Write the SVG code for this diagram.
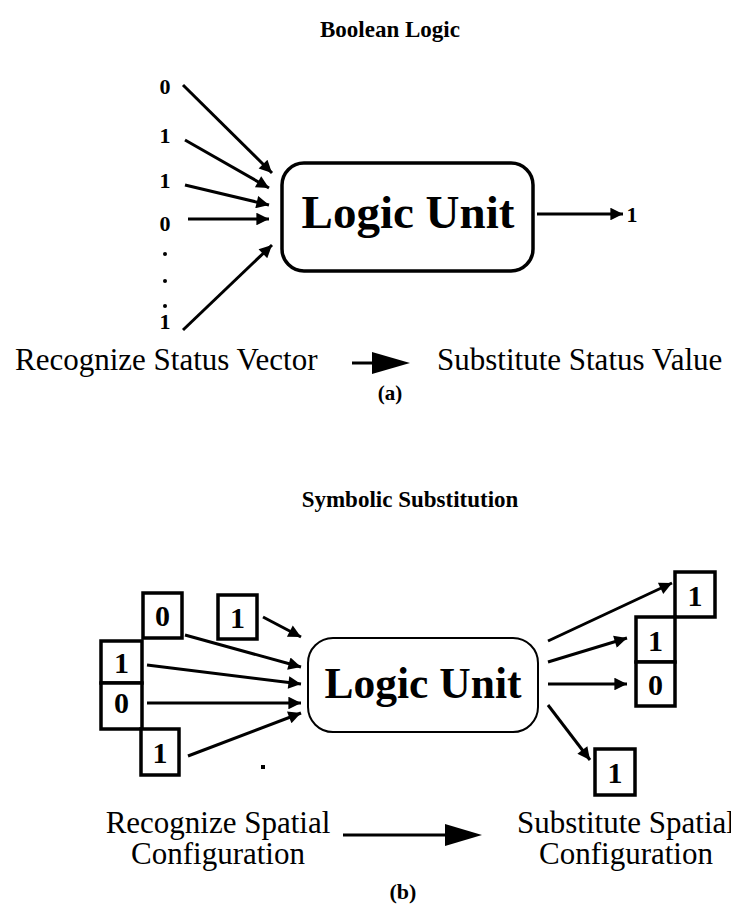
<svg xmlns="http://www.w3.org/2000/svg" width="731" height="909" viewBox="0 0 731 909">
<style>
text{font-family:"Liberation Serif","Times New Roman",serif;fill:#000}
.b{font-weight:bold}
.t{font-size:23px;font-weight:bold}
.lab{font-size:22px;font-weight:bold;text-anchor:middle}
.big{font-size:31px}
.mid{text-anchor:middle}
.cell{fill:#fff;stroke:#000;stroke-width:3.5}
.cd{font-size:30px;font-weight:bold;text-anchor:middle}
.ln{stroke:#000;stroke-width:3;fill:none}
</style>
<defs>
<marker id="ah" viewBox="0 0 10 10" refX="10" refY="5" markerWidth="5.5" markerHeight="4.2" markerUnits="strokeWidth" orient="auto">
<path d="M0,0 L10,5 L0,10 z" fill="#000"/>
</marker>
</defs>
<rect width="731" height="909" fill="#fff"/>

<text class="t" x="390" y="37" text-anchor="middle">Boolean Logic</text>

<g id="inputs-a">
<text class="lab" x="165" y="94">0</text>
<text class="lab" x="165" y="143">1</text>
<text class="lab" x="165" y="188">1</text>
<text class="lab" x="165" y="231">0</text>
<circle cx="165" cy="254" r="2"/>
<circle cx="165" cy="281" r="2"/>
<circle cx="165" cy="306" r="2"/>
<text class="lab" x="165" y="329">1</text>
</g>

<g id="logic-unit-a">
<rect x="282" y="163" width="251" height="108" rx="22" ry="22" fill="#fff" stroke="#000" stroke-width="3.5"/>
<text class="b" x="408" y="228" font-size="47" text-anchor="middle">Logic Unit</text>
</g>

<g id="output-a">
<text class="lab" x="632" y="222">1</text>
</g>

<g id="connectors-a">
<line class="ln" x1="183" y1="85" x2="272" y2="173" marker-end="url(#ah)"/>
<line class="ln" x1="185" y1="140" x2="269" y2="188" marker-end="url(#ah)"/>
<line class="ln" x1="185" y1="185" x2="269" y2="205" marker-end="url(#ah)"/>
<line class="ln" x1="188" y1="219" x2="269" y2="219" marker-end="url(#ah)"/>
<line class="ln" x1="183" y1="330" x2="272" y2="245" marker-end="url(#ah)"/>
<line class="ln" x1="537" y1="214" x2="623" y2="214" marker-end="url(#ah)"/>
</g>

<g id="caption-a">
<text class="big" x="15" y="370">Recognize Status Vector</text>
<line x1="352" y1="363" x2="374" y2="363" stroke="#000" stroke-width="3"/>
<polygon points="372,352 410,363 372,374" fill="#000"/>
<text class="big" x="437" y="370">Substitute Status Value</text>
<text class="b" x="390" y="400" font-size="21" text-anchor="middle">(a)</text>
</g>

<text class="t" x="410" y="507" text-anchor="middle" font-size="24">Symbolic Substitution</text>

<g id="inputs-b">
<rect class="cell" x="143" y="593" width="39" height="45"/>
<text class="cd" x="162.5" y="626">0</text>
<rect class="cell" x="218" y="595" width="39" height="44"/>
<text class="cd" x="237.5" y="628">1</text>
<rect class="cell" x="101" y="641" width="41" height="42"/>
<text class="cd" x="121.5" y="673">1</text>
<rect class="cell" x="101" y="683" width="41" height="46"/>
<text class="cd" x="121.5" y="713">0</text>
<rect class="cell" x="141" y="729" width="38" height="46"/>
<text class="cd" x="160" y="763">1</text>
<rect x="261" y="765" width="4" height="4" fill="#000"/>
</g>

<g id="logic-unit-b">
<rect x="308" y="638" width="230" height="94" rx="25" ry="25" fill="#fff" stroke="#000" stroke-width="2"/>
<text class="b" x="423" y="698" font-size="43.5" text-anchor="middle">Logic Unit</text>
</g>

<g id="outputs-b">
<rect class="cell" x="675" y="572" width="40" height="45"/>
<text class="cd" x="695" y="606">1</text>
<rect class="cell" x="636" y="617" width="39" height="45"/>
<text class="cd" x="655.5" y="651">1</text>
<rect class="cell" x="636" y="662" width="39" height="44"/>
<text class="cd" x="655.5" y="695">0</text>
<rect class="cell" x="595" y="749" width="40" height="46"/>
<text class="cd" x="615" y="783">1</text>
</g>

<g id="connectors-b">
<line class="ln" x1="263" y1="617" x2="301" y2="637" marker-end="url(#ah)"/>
<line class="ln" x1="185" y1="635" x2="301" y2="667" marker-end="url(#ah)"/>
<line class="ln" x1="147" y1="665" x2="301" y2="684" marker-end="url(#ah)"/>
<line class="ln" x1="147" y1="703" x2="301" y2="703" marker-end="url(#ah)"/>
<line class="ln" x1="188" y1="756" x2="301" y2="713" marker-end="url(#ah)"/>
<line class="ln" x1="548" y1="641" x2="672" y2="583" marker-end="url(#ah)"/>
<line class="ln" x1="548" y1="662" x2="627" y2="638" marker-end="url(#ah)"/>
<line class="ln" x1="548" y1="684" x2="627" y2="684" marker-end="url(#ah)"/>
<line class="ln" x1="548" y1="705" x2="590" y2="760" marker-end="url(#ah)"/>
</g>

<g id="caption-b">
<text class="big mid" x="218" y="833">Recognize Spatial</text>
<text class="big mid" x="218" y="864">Configuration</text>
<line x1="343" y1="835" x2="447" y2="835" stroke="#000" stroke-width="3"/>
<polygon points="445,824 482,835 445,846" fill="#000"/>
<text class="big mid" x="626" y="833">Substitute Spatial</text>
<text class="big mid" x="626" y="864">Configuration</text>
<text class="b" x="403" y="899" font-size="22" text-anchor="middle">(b)</text>
</g>
</svg>
